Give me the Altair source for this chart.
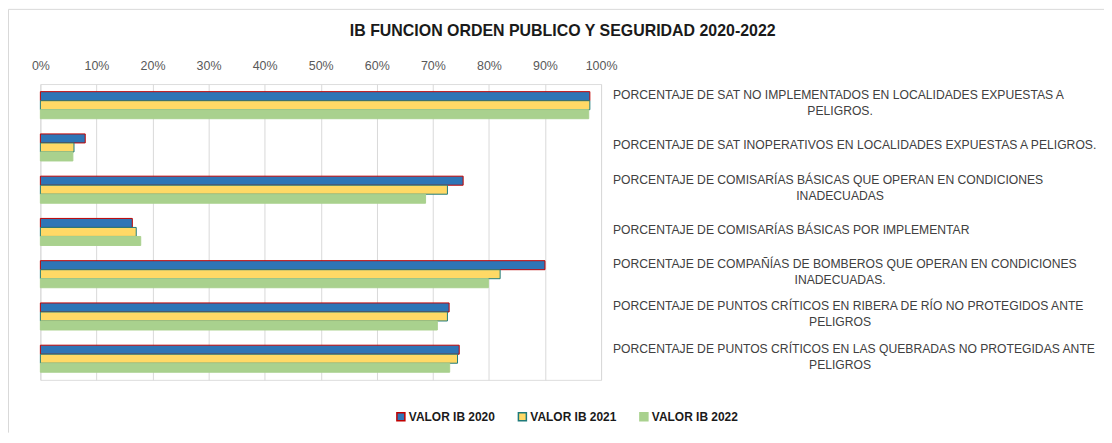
import altair as alt
import pandas as pd

# ---- data ----
line1 = [
    "PORCENTAJE DE SAT NO IMPLEMENTADOS EN LOCALIDADES EXPUESTAS A",
    "PORCENTAJE DE SAT INOPERATIVOS EN LOCALIDADES EXPUESTAS A PELIGROS.",
    "PORCENTAJE DE COMISARÍAS BÁSICAS QUE OPERAN EN CONDICIONES",
    "PORCENTAJE DE COMISARÍAS BÁSICAS POR IMPLEMENTAR",
    "PORCENTAJE DE COMPAÑÍAS DE BOMBEROS QUE OPERAN EN CONDICIONES",
    "PORCENTAJE DE PUNTOS CRÍTICOS EN RIBERA DE RÍO NO PROTEGIDOS ANTE",
    "PORCENTAJE DE PUNTOS CRÍTICOS EN LAS QUEBRADAS NO PROTEGIDAS ANTE",
]
line2 = ["PELIGROS.", "", "INADECUADAS", "", "INADECUADAS.", "PELIGROS", "PELIGROS"]
categories = [f"c{i}" for i in range(len(line1))]

series = ["VALOR IB 2020", "VALOR IB 2021", "VALOR IB 2022"]
ib2020 = [98.0, 8.0, 75.4, 16.4, 90.0, 72.9, 74.7]
ib2021 = [98.0, 6.0, 72.6, 17.1, 82.0, 72.6, 74.4]
ib2022 = [97.8, 5.8, 68.7, 17.9, 79.9, 70.8, 73.0]
x_ticks = [0, 10, 20, 30, 40, 50, 60, 70, 80, 90, 100]

fills = ["#2E75B6", "#FFD966", "#A9D18E"]
strokes = ["#C00000", "#1F7A7A", "#A9D18E"]

NARROW = "Liberation Sans Narrow, Arial Narrow, Liberation Sans, sans-serif"

rows = []
for s, vals in zip(series, [ib2020, ib2021, ib2022]):
    for c, v in zip(categories, vals):
        rows.append({"cat": c, "serie": s, "valor": v})
bars_df = pd.DataFrame(rows)

labels_df = pd.DataFrame({"cat": categories, "l1": line1, "l2": line2,
                          "n": [2 if b else 1 for b in line2]})

y_enc = alt.Y("cat:N", sort=categories, axis=None,
              scale=alt.Scale(paddingInner=0.36, paddingOuter=0.18))

bars = alt.Chart(bars_df).mark_bar(strokeWidth=1).encode(
    x=alt.X("valor:Q", scale=alt.Scale(domain=[0, 100], nice=False),
            axis=alt.Axis(orient="top", values=x_ticks, labelExpr="datum.value + '%'",
                          title=None, domain=False, ticks=False, grid=True,
                          gridColor="#D9D9D9", gridWidth=1, labelFont=NARROW,
                          labelFontSize=12.5, labelColor="#595959", labelPadding=12,
                          labelFlush=False)),
    y=y_enc,
    yOffset=alt.YOffset("serie:N", sort=series, scale=alt.Scale(paddingInner=0, paddingOuter=0)),
    fill=alt.Fill("serie:N", sort=series,
                  scale=alt.Scale(domain=series, range=fills),
                  legend=alt.Legend(title=None, orient="none", direction="horizontal",
                                    legendX=356, legendY=328, symbolType="square",
                                    symbolSize=64, symbolStrokeWidth=1.5,
                                    labelFont=NARROW, labelFontSize=12,
                                    labelFontWeight="bold", labelColor="#1A1A1A",
                                    labelOffset=2, columnPadding=20, padding=0)),
    stroke=alt.Stroke("serie:N", sort=series,
                      scale=alt.Scale(domain=series, range=strokes)),
)

txt_style = dict(baseline="middle", font=NARROW, fontSize=12.2, color="#404040")

text_single = alt.Chart(labels_df).transform_filter("datum.n == 1").mark_text(
    align="left", dy=-2, **txt_style
).encode(y=y_enc, x=alt.value(575), text="l1:N")

text_first = alt.Chart(labels_df).transform_filter("datum.n == 2").mark_text(
    align="left", dy=-10, **txt_style
).encode(y=y_enc, x=alt.value(575), text="l1:N")

text_second = alt.Chart(labels_df).transform_filter("datum.n == 2").mark_text(
    align="center", dy=6, **txt_style
).encode(y=y_enc, x=alt.value(803), text="l2:N")

one = alt.Data(values=[{"k": 1}])
border_left = alt.Chart(one).mark_rule(color="#D9D9D9", strokeWidth=1).encode(
    x=alt.value(-32), y=alt.value(-75), y2=alt.value(350))
border_top = alt.Chart(one).mark_rule(color="#D9D9D9", strokeWidth=1).encode(
    x=alt.value(-32), x2=alt.value(1068), y=alt.value(-75))

chart = alt.layer(border_left, border_top, bars, text_single, text_first, text_second).properties(
    width=563, height=297,
    autosize=alt.AutoSizeParams(type="none"),
    padding={"left": 32.5, "top": 75.5, "right": 505, "bottom": 53},
    title=alt.Title("IB FUNCION ORDEN PUBLICO Y SEGURIDAD 2020-2022",
                    anchor="middle", frame="group", dx=243, offset=-30,
                    font=NARROW, fontSize=16, fontWeight="bold", color="#1A1A1A"),
).configure_view(stroke=None).configure(background="white")

chart.save("out.html", embed_options={"renderer": "svg", "actions": False})
